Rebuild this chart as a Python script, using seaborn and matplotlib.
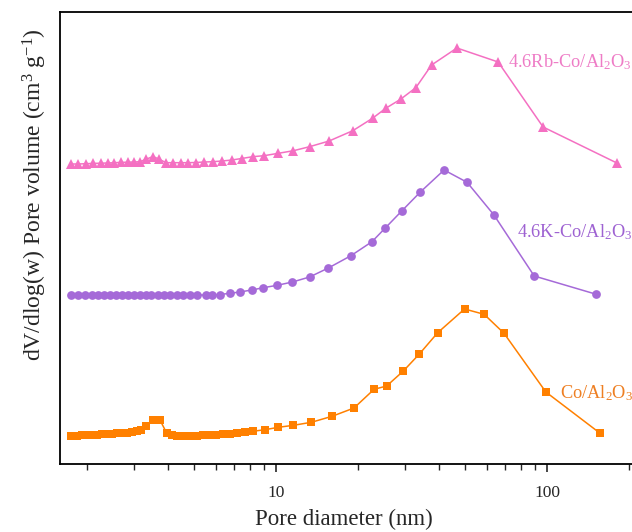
import numpy as np
import pandas as pd
import matplotlib
matplotlib.use("Agg")
import matplotlib.pyplot as plt
import seaborn as sns

# pore size distributions (BJH), curves offset vertically, arbitrary units
d_co = [1.747, 1.844, 1.924, 2.007, 2.094, 2.185, 2.280, 2.378, 2.482, 2.589, 2.702,
        2.819, 2.941, 3.069, 3.176, 3.31, 3.52, 3.73, 3.95, 4.12, 4.30, 4.49, 4.68,
        4.88, 5.10, 5.39, 5.70, 6.01, 6.36, 6.76, 7.19, 7.69, 8.2, 9.11, 10.2, 11.6,
        13.5, 16.1, 19.4, 23.0, 25.6, 29.5, 33.8, 39.5, 49.6, 58.6, 69.4, 99, 157]
v_co = [0.28, 0.283, 0.286, 0.289, 0.292, 0.295, 0.298, 0.301, 0.304, 0.307, 0.31,
        0.314, 0.32, 0.33, 0.345, 0.385, 0.445, 0.44, 0.31, 0.29, 0.285, 0.282, 0.282,
        0.282, 0.283, 0.286, 0.29, 0.293, 0.297, 0.302, 0.308, 0.316, 0.327, 0.343,
        0.367, 0.387, 0.417, 0.477, 0.56, 0.747, 0.78, 0.93, 1.10, 1.313, 1.55, 1.497,
        1.307, 0.72, 0.307]

d_k = [1.747, 1.864, 1.974, 2.09, 2.20, 2.32, 2.44, 2.57, 2.70, 2.85, 2.99, 3.15,
       3.31, 3.47, 3.66, 3.86, 4.06, 4.30, 4.55, 4.82, 5.10, 5.50, 5.80, 6.21, 6.76,
       7.36, 8.13, 8.98, 10.1, 11.5, 13.3, 15.6, 18.9, 22.6, 25.3, 29.1, 34.0, 41.7,
       50.7, 63.7, 89.7, 152]
v_k = [1.69, 1.69, 1.69, 1.69, 1.69, 1.69, 1.69, 1.69, 1.69, 1.69, 1.69, 1.69,
       1.69, 1.69, 1.69, 1.69, 1.69, 1.69, 1.69, 1.69, 1.69, 1.69, 1.69, 1.695, 1.707,
       1.72, 1.74, 1.763, 1.787, 1.82, 1.87, 1.96, 2.083, 2.223, 2.36, 2.53, 2.717,
       2.94, 2.817, 2.49, 1.88, 1.697]

d_rb = [1.747, 1.864, 1.99, 2.12, 2.26, 2.39, 2.53, 2.68, 2.84, 2.99, 3.15, 3.31,
        3.52, 3.71, 3.93, 4.18, 4.45, 4.74, 5.07, 5.42, 5.84, 6.33, 6.87, 7.47, 8.2,
        9.03, 10.2, 11.6, 13.3, 15.7, 19.2, 22.7, 25.4, 28.8, 32.8, 37.5, 46.5, 66,
        96.7, 181]
v_rb = [3.0, 3.0, 3.003, 3.006, 3.008, 3.01, 3.013, 3.016, 3.018, 3.02, 3.023, 3.047,
        3.075, 3.047, 3.013, 3.013, 3.013, 3.013, 3.015, 3.02, 3.023, 3.03, 3.04, 3.055,
        3.073, 3.083, 3.107, 3.133, 3.173, 3.23, 3.333, 3.457, 3.557, 3.647, 3.763,
        3.99, 4.16, 4.02, 3.37, 3.01]

samples = ["Co/Al$_2$O$_3$", "4.6K-Co/Al$_2$O$_3$", "4.6Rb-Co/Al$_2$O$_3$"]

sns.set_style("ticks")
plt.rcParams["font.family"] = ["Liberation Serif", "DejaVu Serif"]
plt.rcParams["mathtext.fontset"] = "custom"
plt.rcParams["mathtext.rm"] = "Liberation Serif"
plt.rcParams["mathtext.it"] = "Liberation Serif:italic"

fig = plt.figure(figsize=(6.32, 5.32), dpi=100)
ax = fig.add_axes([60 / 632, 68 / 532, 580 / 632, 452 / 532])

series = [
    (d_co, v_co, "s", 5.4, "#FF8000", "#EE7F22", (111.7, 0.71)),
    (d_k, v_k, "o", 6.3, "#A56AD8", "#9E62D2", (77.4, 2.32)),
    (d_rb, v_rb, "^", 7.2, "#F470C2", "#EE7CC6", (72, 4.02)),
]
for (d, v, mk, ms, col, tcol, pos), name in zip(series, samples):
    df = pd.DataFrame({"d": d, "v": v})
    sns.lineplot(data=df, x="d", y="v", ax=ax, color=col, marker=mk,
                 markersize=ms, markeredgewidth=0, linewidth=1.1, sort=False)
    ax.text(pos[0], pos[1], name, color=tcol, fontsize=13.2, va="center", ha="left",
            clip_on=False)

ax.set_xscale("log")
ax.set_xlim(10 ** 0.203, 10 ** 2.343)
ax.set_ylim(0, 4.52)
ax.set_yticks([])
ax.set_xticks([10, 100])
ax.set_xticklabels(["10", "100"])
ax.tick_params(axis="x", which="major", length=6, width=1.2, labelsize=12.5,
               pad=9, direction="out")
ax.tick_params(axis="x", which="minor", length=4, width=1.0, direction="out")
for s in ax.spines.values():
    s.set_linewidth(1.3)
    s.set_color("black")

ax.set_xlabel("Pore diameter (nm)", fontsize=16.5)
ax.xaxis.set_label_coords(0.49, -0.1)
ax.set_ylabel("dV/dlog(w) Pore volume (cm$^3$ g$^{-1}$)", fontsize=17)
ax.yaxis.set_label_coords(-0.019, 0.595)

fig.savefig("out.png", dpi=100)
